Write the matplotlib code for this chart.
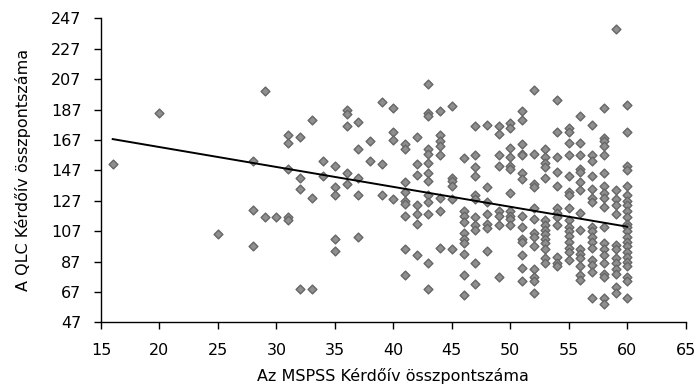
import numpy as np
import matplotlib.pyplot as plt

plt.rcParams['font.family'] = ['DejaVu Sans']

# MSPSS score -> QLC scores, column by column
mspss_values = [16, 20, 25, 28, 29, 30, 31, 32, 33, 34, 35, 36, 37, 38, 39, 40,
                41, 42, 43, 44, 45, 46, 47, 48, 49, 50, 51, 52, 53, 54, 55, 56,
                57, 58, 59, 60]
qlc_columns = [
    [151],
    [185],
    [105],
    [153, 121, 97],
    [199, 116],
    [116],
    [170, 165, 148, 116, 114],
    [169, 142, 135, 69],
    [180, 129, 69],
    [153, 143],
    [150, 136, 131, 102, 94],
    [187, 184, 176, 145, 138],
    [179, 161, 142, 131, 103],
    [166, 153],
    [192, 151, 131],
    [188, 172, 167, 128],
    [164, 161, 139, 133, 127, 125, 117, 95, 78],
    [169, 151, 144, 124, 118, 112, 91],
    [204, 185, 183, 161, 158, 152, 145, 140, 131, 126, 118, 86, 69],
    [186, 170, 166, 163, 157, 129, 120, 96],
    [189, 142, 140, 137, 128, 95],
    [155, 120, 117, 113, 106, 102, 99, 92, 78, 65],
    [176, 157, 149, 143, 131, 128, 116, 111, 108, 86, 72],
    [177, 136, 126, 118, 112, 109, 94],
    [176, 171, 157, 150, 120, 117, 111, 77],
    [178, 175, 162, 156, 150, 148, 132, 120, 117, 115, 111],
    [186, 180, 164, 158, 157, 145, 141, 117, 110, 102, 100, 91, 83, 74],
    [200, 158, 138, 136, 122, 115, 106, 103, 97, 82, 77, 74, 66],
    [161, 156, 152, 149, 142, 114, 111, 108, 105, 102, 99, 95, 89, 86],
    [193, 172, 156, 146, 137, 122, 119, 116, 111, 90, 86, 84],
    [175, 172, 165, 157, 143, 133, 131, 122, 114, 110, 107, 104, 100, 96, 93, 88],
    [183, 165, 157, 148, 146, 139, 134, 119, 108, 95, 92, 89, 84, 78, 75],
    [177, 157, 153, 143, 135, 129, 126, 110, 107, 103, 100, 96, 88, 85, 80, 63],
    [188, 168, 166, 163, 157, 145, 137, 132, 129, 123, 110, 99, 95, 91, 86, 79, 77, 63, 59],
    [240, 134, 128, 124, 118, 98, 95, 89, 86, 82, 79, 70, 66],
    [190, 172, 150, 147, 137, 131, 127, 124, 120, 116, 112, 110, 107, 103, 100, 97,
     93, 90, 87, 84, 77, 74, 63],
]

# linear trendline as drawn in the chart (fitted on the full sample)
trend_slope = -1.31
trend_intercept = 188.5

x = np.concatenate([[m] * len(c) for m, c in zip(mspss_values, qlc_columns)])
y = np.concatenate(qlc_columns)

fig = plt.figure(figsize=(6.99, 3.9), dpi=100)
ax = fig.add_axes([0.1445, 0.1736, 0.8365, 0.7794])

ax.scatter(x, y, marker='D', s=20, facecolor='#8f8f8f', edgecolor='#666666',
           linewidth=1, zorder=3)
lx = np.array([x.min(), x.max()])
ax.plot(lx, trend_intercept + trend_slope * lx, color='black', lw=1.4, zorder=4)

ax.set_xlim(15, 65)
ax.set_ylim(47, 247)
ax.set_xticks(range(15, 66, 5))
ax.set_yticks(range(47, 248, 20))
for s in ['top', 'right']:
    ax.spines[s].set_visible(False)
for s in ['left', 'bottom']:
    ax.spines[s].set_color('black')
    ax.spines[s].set_linewidth(1.0)
ax.tick_params(direction='out', length=5, width=1.0, labelsize=11.5, colors='black')
ax.tick_params(axis='x', pad=10)
ax.tick_params(axis='y', pad=9)

ax.set_xlabel('Az MSPSS Kérdőív összpontszáma', fontsize=11.5, labelpad=7)
ax.set_ylabel('A QLC Kérdőív összpontszáma', fontsize=11.5, labelpad=14)

fig.savefig('out.png', dpi=100)
